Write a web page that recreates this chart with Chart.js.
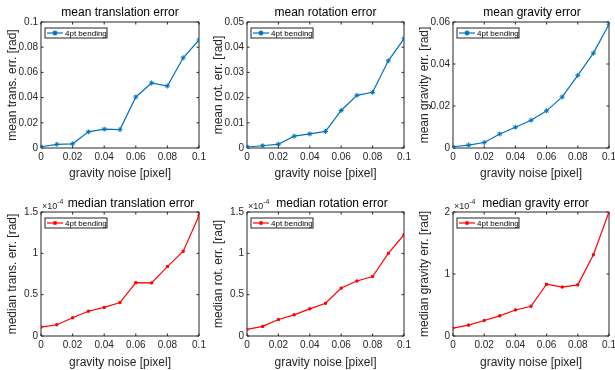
<!DOCTYPE html>
<html>
<head>
<meta charset="utf-8">
<script src="https://cdn.jsdelivr.net/npm/chart.js@4/dist/chart.umd.min.js"></script>
<style>
  html, body { margin: 0; padding: 0; background: #fff; overflow: hidden; }
  #wrap { position: relative; width: 615px; height: 370px; overflow: hidden; }
  canvas { position: absolute; }
</style>
</head>
<body>
<div id="wrap"></div>
<script>
// gravity noise levels
var noise = [0, 0.01, 0.02, 0.03, 0.04, 0.05, 0.06, 0.07, 0.08, 0.09, 0.1];

// mean errors [rad]
var meanTrans = [0.0010, 0.0029, 0.0033, 0.0128, 0.0150, 0.0146, 0.0405, 0.0516, 0.0492, 0.0716, 0.0857];
var meanRot   = [0.0004, 0.0009, 0.0015, 0.0047, 0.0056, 0.0066, 0.0149, 0.0209, 0.0221, 0.0346, 0.0434];
var meanGrav  = [0.0006, 0.0014, 0.0026, 0.0067, 0.0099, 0.0132, 0.0177, 0.0243, 0.0346, 0.0452, 0.0589];

// median errors, in units of 1e-4 rad
var medianTrans = [0.108, 0.136, 0.220, 0.300, 0.346, 0.405, 0.645, 0.642, 0.840, 1.025, 1.455];
var medianRot   = [0.080, 0.116, 0.200, 0.256, 0.328, 0.396, 0.580, 0.665, 0.720, 1.000, 1.225];
var medianGrav  = [0.128, 0.176, 0.250, 0.325, 0.420, 0.480, 0.835, 0.790, 0.825, 1.310, 2.000];

// tick labels
var xTicks = [0, 0.02, 0.04, 0.06, 0.08, 0.1];
var meanTransTicks = [0, 0.02, 0.04, 0.06, 0.08, 0.1];
var meanRotTicks = [0, 0.01, 0.02, 0.03, 0.04, 0.05];
var meanGravTicks = [0, 0.02, 0.04, 0.06];
var medianTransTicks = [0, 0.5, 1, 1.5];
var medianRotTicks = [0, 0.5, 1, 1.5];
var medianGravTicks = [0, 1, 2];

var seriesName = '4pt bending';
var FONT = "'Liberation Sans', Arial, Helvetica, sans-serif";
var TXT = '#262626';

Chart.defaults.font.family = FONT;
Chart.defaults.color = TXT;

function fmt(v) { return String(+(+v).toFixed(4)); }

// axes box with inward ticks, like matlab
var framePlugin = {
  id: 'frame',
  beforeDatasetsDraw: function(chart) {
    var a = chart.chartArea, ctx = chart.ctx;
    var xs = chart.scales.x, ys = chart.scales.y;
    ctx.save();
    ctx.strokeStyle = TXT;
    ctx.lineWidth = 1;
    ctx.beginPath();
    ctx.rect(a.left, a.top, a.right - a.left, a.bottom - a.top);
    xs.ticks.forEach(function(t) {
      var px = xs.getPixelForValue(t.value);
      ctx.moveTo(px, a.bottom); ctx.lineTo(px, a.bottom - 2.5);
      ctx.moveTo(px, a.top); ctx.lineTo(px, a.top + 2.5);
    });
    ys.ticks.forEach(function(t) {
      var py = ys.getPixelForValue(t.value);
      ctx.moveTo(a.left, py); ctx.lineTo(a.left + 2.5, py);
      ctx.moveTo(a.right, py); ctx.lineTo(a.right - 2.5, py);
    });
    ctx.stroke();
    ctx.restore();
  }
};

// legend box inside the axes, top left
var boxLegend = {
  id: 'boxLegend',
  afterDraw: function(chart) {
    var a = chart.chartArea, ctx = chart.ctx;
    var ds = chart.data.datasets[0];
    var x = a.left + 4, y = a.top + 6, w = 62, h = 10;
    ctx.save();
    ctx.fillStyle = '#fff';
    ctx.fillRect(x, y, w, h);
    ctx.strokeStyle = TXT;
    ctx.lineWidth = 1;
    ctx.strokeRect(x, y, w, h);
    var my = y + h / 2;
    ctx.strokeStyle = ds.borderColor;
    ctx.lineWidth = ds.borderWidth;
    ctx.beginPath();
    ctx.moveTo(x + 2, my); ctx.lineTo(x + 18, my);
    ctx.stroke();
    ctx.fillStyle = ds.borderColor;
    Chart.helpers.drawPoint(ctx, {
      pointStyle: ds.pointStyle, radius: ds.pointRadius, borderWidth: 1, rotation: 0
    }, x + 10, my);
    ctx.fillStyle = '#000';
    ctx.font = '8px ' + FONT;
    ctx.textBaseline = 'middle';
    ctx.fillText(ds.label, x + 20, my + 0.5);
    ctx.restore();
  }
};

// x10^-4 exponent above the y axis, and title nudged right past it
var expLabel = {
  id: 'expLabel',
  afterLayout: function(chart, args, opts) {
    var t = chart.titleBlock;
    if (t && opts && opts.shift) { t.left += opts.shift; t.right += opts.shift; }
  },
  afterDraw: function(chart, args, opts) {
    if (!opts || !opts.sup) return;
    var a = chart.chartArea, ctx = chart.ctx;
    ctx.save();
    ctx.fillStyle = TXT;
    ctx.textBaseline = 'alphabetic';
    ctx.font = '9px ' + FONT;
    ctx.fillText('\u00d710', a.left + 1, a.top - 3);
    var w = ctx.measureText('\u00d710').width;
    ctx.font = '7px ' + FONT;
    ctx.fillText(opts.sup, a.left + 1 + w, a.top - 8);
    ctx.restore();
  }
};

var panels = [
  { title: 'mean translation error', ylab: 'mean trans. err. [rad]', vals: meanTrans, yt: meanTransTicks, color: '#0072BD', style: 'star', r: 2.5, row: 0, col: 0, shift: 0 },
  { title: 'mean rotation error', ylab: 'mean rot. err. [rad]', vals: meanRot, yt: meanRotTicks, color: '#0072BD', style: 'star', r: 2.5, row: 0, col: 1, shift: 0 },
  { title: 'mean gravity error', ylab: 'mean gravity err. [rad]', vals: meanGrav, yt: meanGravTicks, color: '#0072BD', style: 'star', r: 2.5, row: 0, col: 2, shift: 1 },
  { title: 'median translation error', ylab: 'median trans. err. [rad]', vals: medianTrans, yt: medianTransTicks, color: '#FF0000', style: 'rect', r: 1.5, row: 1, col: 0, shift: 11, sup: '-4' },
  { title: 'median rotation error', ylab: 'median rot. err. [rad]', vals: medianRot, yt: medianRotTicks, color: '#FF0000', style: 'rect', r: 1.5, row: 1, col: 1, shift: 6.5, sup: '-4' },
  { title: 'median gravity error', ylab: 'median gravity err. [rad]', vals: medianGrav, yt: medianGravTicks, color: '#FF0000', style: 'rect', r: 1.5, row: 1, col: 2, shift: 4.5, sup: '-4' }
];

var colL = [41, 247, 453], colR = [199, 404, 609];
var rowTop = [0, 185], plotB = [148, 336];
var rowH = 185, yAxisW = 41, padR = 41;
var titlePad = [{ top: 6.3, bottom: 3.7 }, { top: 13, bottom: 2 }];
var xTitlePad = [5.5, 1.5];

var wrap = document.getElementById('wrap');

panels.forEach(function(p) {
  var cl = colL[p.col] - yAxisW;
  var cw = colR[p.col] + padR - cl;
  var ct = rowTop[p.row];
  var cv = document.createElement('canvas');
  cv.width = cw; cv.height = rowH;
  cv.style.left = cl + 'px'; cv.style.top = ct + 'px';
  cv.style.width = cw + 'px'; cv.style.height = rowH + 'px';
  wrap.appendChild(cv);

  var xAxisH = ct + rowH - plotB[p.row];
  var yt = p.yt;

  new Chart(cv.getContext('2d'), {
    type: 'line',
    data: {
      datasets: [{
        label: seriesName,
        data: noise.map(function(x, i) { return { x: x, y: p.vals[i] }; }),
        borderColor: p.color,
        backgroundColor: p.color,
        borderWidth: 1.2,
        pointStyle: p.style,
        pointRadius: p.r,
        pointBorderWidth: 1,
        pointBorderColor: p.color,
        pointBackgroundColor: p.color,
        tension: 0,
        fill: false
      }]
    },
    options: {
      responsive: false,
      animation: false,
      devicePixelRatio: 1,
      layout: { padding: { left: 0, top: 0, bottom: 0, right: padR } },
      plugins: {
        legend: { display: false },
        tooltip: { enabled: false },
        title: {
          display: true,
          fullSize: false,
          text: p.title,
          color: '#000',
          font: { size: 12, weight: 'normal', lineHeight: 1 },
          padding: titlePad[p.row]
        },
        expLabel: { sup: p.sup, shift: p.shift }
      },
      scales: {
        x: {
          type: 'linear',
          min: 0, max: 0.1,
          afterBuildTicks: function(s) { s.ticks = xTicks.map(function(v) { return { value: v }; }); },
          afterFit: function(s) { s.height = xAxisH; },
          grid: { display: false, drawTicks: false },
          border: { display: false },
          ticks: { color: TXT, padding: 3, maxRotation: 0, autoSkip: false, font: { size: 10 }, callback: fmt },
          title: { display: true, text: 'gravity noise [pixel]', color: TXT, font: { size: 12, lineHeight: 1 }, padding: { top: 0, bottom: xTitlePad[p.row] } }
        },
        y: {
          type: 'linear',
          min: yt[0], max: yt[yt.length - 1],
          afterBuildTicks: function(s) { s.ticks = yt.map(function(v) { return { value: v }; }); },
          afterFit: function(s) { s.width = yAxisW; },
          grid: { display: false, drawTicks: false },
          border: { display: false },
          ticks: { color: TXT, padding: 3, autoSkip: false, font: { size: 10 }, callback: fmt },
          title: { display: true, text: p.ylab, color: TXT, font: { size: 12, lineHeight: 1 }, padding: { top: 7, bottom: 0 } }
        }
      }
    },
    plugins: [framePlugin, boxLegend, expLabel]
  });
});
</script>
</body>
</html>
